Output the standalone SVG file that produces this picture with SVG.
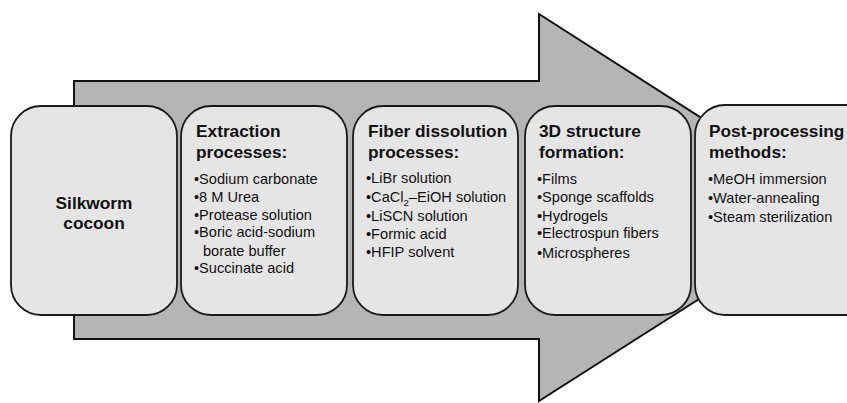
<svg xmlns="http://www.w3.org/2000/svg" width="847" height="403" viewBox="0 0 847 403">
  <style>
    .arrow { fill: #b5b5b5; stroke: #111; stroke-width: 2; stroke-linejoin: miter; }
    .box { fill: #e5e5e5; stroke: #1a1a1a; stroke-width: 1.8; }
    .title { font-family: "Liberation Sans", Arial, sans-serif; font-weight: bold; font-size: 17.3px; fill: #111; }
    .item { font-family: "Liberation Sans", Arial, sans-serif; font-size: 14.6px; fill: #111; }
    .sub { font-size: 9.5px; }
  </style>
  <rect width="847" height="403" fill="#fff"/>

  <!-- Big background arrow -->
  <g id="connectors">
    <polygon class="arrow" points="74,81 539,81 539,14 842,208 539,401 539,339 74,339"/>
  </g>

  <g id="node-cocoon">
    <rect class="box" x="11" y="106" width="166" height="209" rx="30" ry="30"/>
    <text class="title" x="94" y="209" text-anchor="middle">Silkworm</text>
    <text class="title" x="94" y="229" text-anchor="middle">cocoon</text>
  </g>

  <g id="node-extraction">
    <rect class="box" x="181" y="106" width="166" height="209" rx="30" ry="30"/>
    <text class="title" x="196" y="137">Extraction</text>
    <text class="title" x="196" y="158">processes:</text>
    <text class="item" x="194" y="184">•Sodium carbonate</text>
    <text class="item" x="194" y="202">•8 M Urea</text>
    <text class="item" x="194" y="219.5">•Protease solution</text>
    <text class="item" x="194" y="237">•Boric acid-sodium</text>
    <text class="item" x="203" y="256">borate buffer</text>
    <text class="item" x="194" y="273">•Succinate acid</text>
  </g>

  <g id="node-dissolution">
    <rect class="box" x="353" y="106" width="165" height="209" rx="30" ry="30"/>
    <text class="title" x="368" y="137">Fiber dissolution</text>
    <text class="title" x="368" y="158">processes:</text>
    <text class="item" x="366" y="183">•LiBr solution</text>
    <text class="item" x="366" y="202">•CaCl<tspan class="sub" dy="4">2</tspan><tspan dy="-4">–EiOH solution</tspan></text>
    <text class="item" x="366" y="220.5">•LiSCN solution</text>
    <text class="item" x="366" y="238.5">•Formic acid</text>
    <text class="item" x="366" y="257">•HFIP solvent</text>
  </g>

  <g id="node-structure">
    <rect class="box" x="525" y="106" width="166" height="209" rx="30" ry="30"/>
    <text class="title" x="539" y="137">3D structure</text>
    <text class="title" x="539" y="158">formation:</text>
    <text class="item" x="537" y="184">•Films</text>
    <text class="item" x="537" y="202">•Sponge scaffolds</text>
    <text class="item" x="537" y="220.5">•Hydrogels</text>
    <text class="item" x="537" y="237.5">•Electrospun fibers</text>
    <text class="item" x="537" y="258">•Microspheres</text>
  </g>

  <g id="node-postprocessing">
    <rect class="box" x="695" y="105" width="190" height="210" rx="30" ry="30"/>
    <text class="title" x="709" y="137">Post-processing</text>
    <text class="title" x="709" y="158">methods:</text>
    <text class="item" x="708" y="184">•MeOH immersion</text>
    <text class="item" x="708" y="203">•Water-annealing</text>
    <text class="item" x="708" y="222">•Steam sterilization</text>
  </g>
</svg>
